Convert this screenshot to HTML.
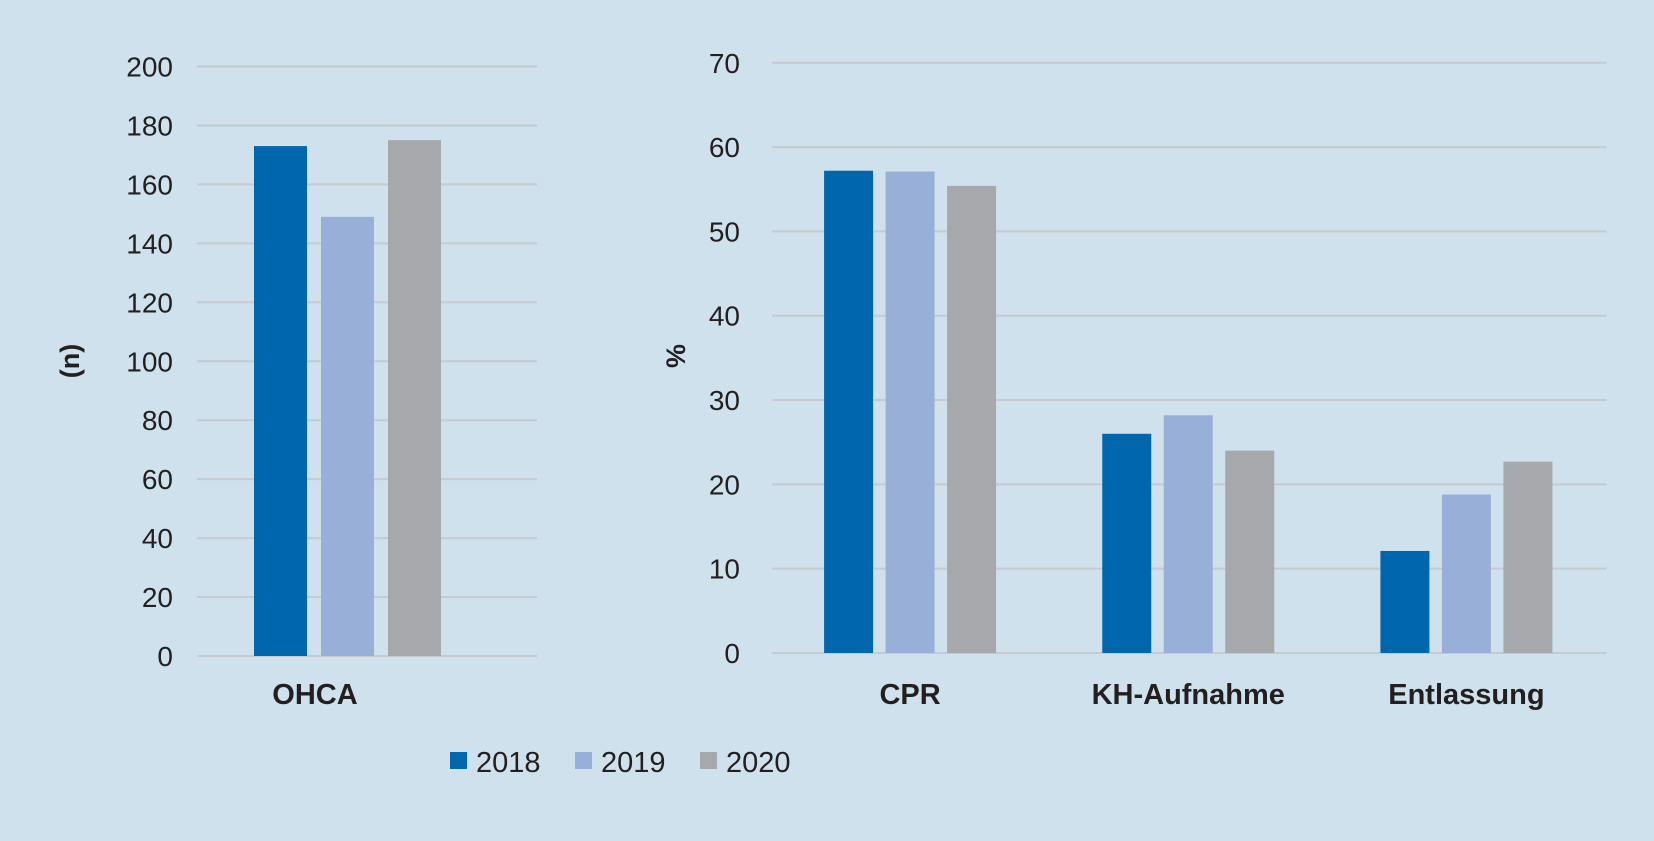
<!DOCTYPE html>
<html><head><meta charset="utf-8">
<style>
html,body{margin:0;padding:0;background:#cfe1ec;}
svg{display:block;font-family:"Liberation Sans",sans-serif;}
</style></head>
<body>
<svg id="c" width="1654" height="841" viewBox="0 0 1654 841">
<rect width="1654" height="841" fill="#cfe1ec"/>
</svg>
<script>
const leftCategories = ["OHCA"];
const rightCategories = ["CPR","KH-Aufnahme","Entlassung"];
const years = ["2018","2019","2020"];
const leftValues2018 = [173];
const leftValues2019 = [149];
const leftValues2020 = [175];
const rightValues2018 = [57.2, 26.0, 12.1];
const rightValues2019 = [57.1, 28.2, 18.8];
const rightValues2020 = [55.4, 24.0, 22.7];
const leftTicks = [0,20,40,60,80,100,120,140,160,180,200];
const rightTicks = [0,10,20,30,40,50,60,70];
const colors = ["#0066ae","#98b0d8","#a7a8ab"];

const svg = document.getElementById('c');
const NS = "http://www.w3.org/2000/svg";
function mk(tag, attrs, text){
  const e = document.createElementNS(NS, tag);
  for (const k in attrs) e.setAttribute(k, attrs[k]);
  if (text !== undefined) e.textContent = text;
  svg.appendChild(e);
  return e;
}
const TXT = "#231f20";

// Left panel
const L = {x0:197, x1:537, y0:656, y1:66.5, max:200};
const ly = v => L.y0 - v/L.max*(L.y0-L.y1);
leftTicks.forEach(t=>{
  const g = mk('line',{x1:L.x0,x2:L.x1,y1:ly(t),y2:ly(t),stroke:"#c5cbd1","stroke-width":2});
  
  
  const lb = mk('text',{x:173,y:ly(t)+10,"text-anchor":"end","font-size":28,fill:TXT},String(t));
  
  
});
const leftSeries = [leftValues2018,leftValues2019,leftValues2020];
const lBarW = 53, lStep = 67;
leftCategories.forEach((c,i)=>{
  const center = 347.5;
  leftSeries.forEach((s,j)=>{
    const x = center + (j-1)*lStep - lBarW/2;
    const r = mk('rect',{x:x,y:ly(s[i]),width:lBarW,height:ly(0)-ly(s[i]),fill:colors[j]});
    
    
  });
  const t = mk('text',{x:315,y:704,"text-anchor":"middle","font-size":29,"font-weight":"bold",fill:TXT},c);
  
  
});
const lt = mk('text',{x:0,y:0,"text-anchor":"middle","font-size":27,"font-weight":"bold",fill:TXT,transform:"translate(79,361) rotate(-90)"},"(n)");



// Right panel
const R = {x0:772, x1:1606.5, y0:653, y1:62.8, max:70};
const ry = v => R.y0 - v/R.max*(R.y0-R.y1);
rightTicks.forEach(t=>{
  const g = mk('line',{x1:R.x0,x2:R.x1,y1:ry(t),y2:ry(t),stroke:"#c5cbd1","stroke-width":2});
  
  
  const lb = mk('text',{x:740,y:ry(t)+10,"text-anchor":"end","font-size":28,fill:TXT},String(t));
  
  
});
const rightSeries = [rightValues2018,rightValues2019,rightValues2020];
const band = (R.x1-R.x0)/rightCategories.length;
const rBarW = 49, rStep = 61.5;
rightCategories.forEach((c,i)=>{
  const center = R.x0 + band*(i+0.5) - 1;
  rightSeries.forEach((s,j)=>{
    const x = center + (j-1)*rStep - rBarW/2;
    const r = mk('rect',{x:x,y:ry(s[i]),width:rBarW,height:ry(0)-ry(s[i]),fill:colors[j]});
    
    
  });
  const t = mk('text',{x:center,y:704,"text-anchor":"middle","font-size":29,"font-weight":"bold",fill:TXT},c);
  
  
});
const rt = mk('text',{x:0,y:0,"text-anchor":"middle","font-size":27,"font-weight":"bold",fill:TXT,transform:"translate(685,356) rotate(-90)"},"%");



// Legend
const legX = [450,575,700];
years.forEach((y,j)=>{
  const s = mk('rect',{x:legX[j],y:752,width:17,height:17,fill:colors[j]});
  
  
  const t = mk('text',{x:legX[j]+26,y:772,"font-size":29,fill:TXT},y);
  
  
});
</script>
</body></html>
